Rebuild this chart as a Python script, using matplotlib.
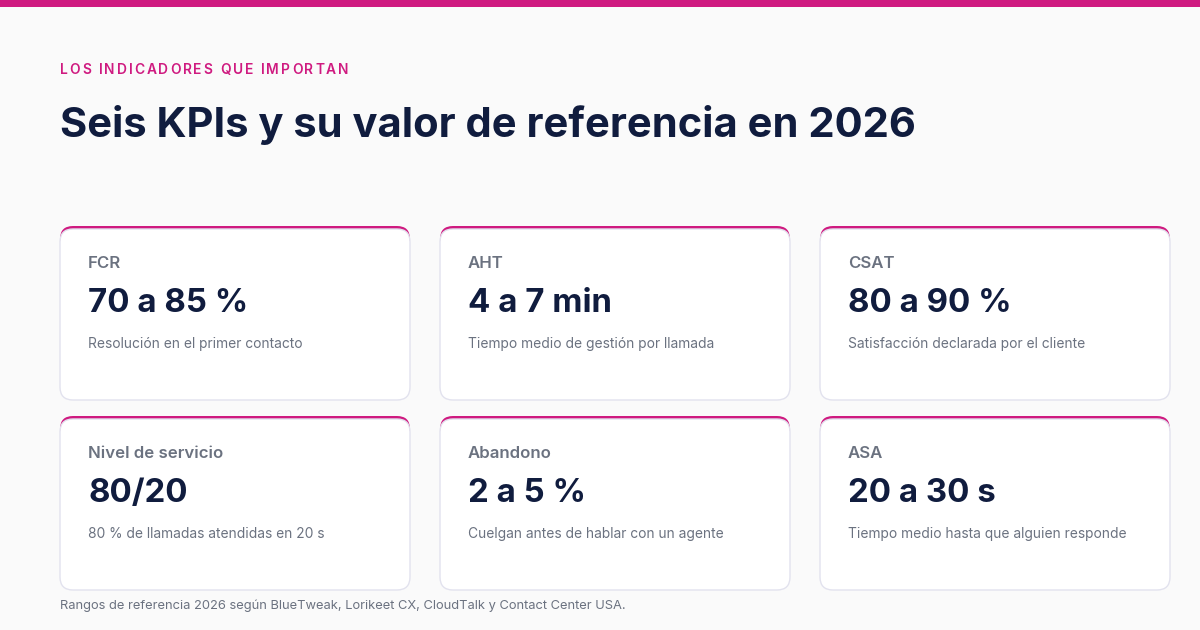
import matplotlib
matplotlib.use("Agg")
from matplotlib import pyplot as plt
from matplotlib.patches import FancyBboxPatch, Rectangle

kicker = "LOS INDICADORES QUE IMPORTAN"
title = "Seis KPIs y su valor de referencia en 2026"
footer = "Rangos de referencia 2026 según BlueTweak, Lorikeet CX, CloudTalk y Contact Center USA."

kpi_names = ["FCR", "AHT", "CSAT", "Nivel de servicio", "Abandono", "ASA"]
kpi_values = ["70 a 85 %", "4 a 7 min", "80 a 90 %", "80/20", "2 a 5 %", "20 a 30 s"]
kpi_notes = [
    "Resolución en el primer contacto",
    "Tiempo medio de gestión por llamada",
    "Satisfacción declarada por el cliente",
    "80 % de llamadas atendidas en 20 s",
    "Cuelgan antes de hablar con un agente",
    "Tiempo medio hasta que alguien responde",
]

PINK = "#CF1A80"
NAVY = "#101C3E"
GRAY = "#6B7280"
BG = "#FAFAFA"
BORDER = "#E2E2EE"

W, H = 1200, 630
fig = plt.figure(figsize=(W / 100, H / 100), dpi=100, facecolor=BG)
ax = fig.add_axes([0, 0, 1, 1])
ax.set_xlim(0, W)
ax.set_ylim(H, 0)
ax.axis("off")
ax.set_facecolor(BG)

plt.rcParams["font.family"] = ["Inter", "DejaVu Sans"]


def px(v):
    return v * 0.72


# top bar
ax.add_patch(Rectangle((0, 0), W, 7, color=PINK, lw=0))

# kicker with letter spacing
fig.canvas.draw()
renderer = fig.canvas.get_renderer()
x = 60
for ch in kicker:
    t = ax.text(x, 74, ch, fontsize=px(13.8), color=PINK, fontweight="semibold",
                va="baseline", ha="left")
    bb = t.get_window_extent(renderer)
    if ch == " ":
        adv = 13.8 * 0.28
    else:
        adv = bb.width
    x += adv + 1.9

ax.text(60, 137, title, fontsize=px(41.7), color=NAVY, fontweight="bold",
        va="baseline", ha="left")

card_w, card_h = 350, 174
col_x = [60, 440, 820]
row_y = [226, 416]
rad = 13

for i, (name, val, note) in enumerate(zip(kpi_names, kpi_values, kpi_notes)):
    cx = col_x[i % 3]
    cy = row_y[i // 3]
    outer = FancyBboxPatch((cx, cy), card_w, card_h,
                           boxstyle=f"round,pad=0,rounding_size={rad}",
                           fc=PINK, ec="none", zorder=2)
    ax.add_patch(outer)
    top_clip = Rectangle((cx - 2, cy - 2), card_w + 4, rad + 4,
                         transform=ax.transData)
    outer.set_clip_path(top_clip)
    inner = FancyBboxPatch((cx, cy + 3), card_w, card_h - 3,
                           boxstyle=f"round,pad=0,rounding_size={rad}",
                           fc="white", ec=BORDER, lw=1, zorder=3)
    ax.add_patch(inner)

    ax.text(cx + 28, cy + 42, name, fontsize=px(16.8), color=GRAY,
            fontweight="semibold", va="baseline", ha="left", zorder=4)
    ax.text(cx + 28, cy + 86, val, fontsize=px(33), color=NAVY,
            fontweight="bold", va="baseline", ha="left", zorder=4)
    ax.text(cx + 28, cy + 122, note, fontsize=px(13.8), color=GRAY,
            va="baseline", ha="left", zorder=4)

ax.text(60, 609, footer, fontsize=px(12.9), color=GRAY, va="baseline", ha="left")

fig.savefig("out.png", dpi=100, facecolor=BG)
